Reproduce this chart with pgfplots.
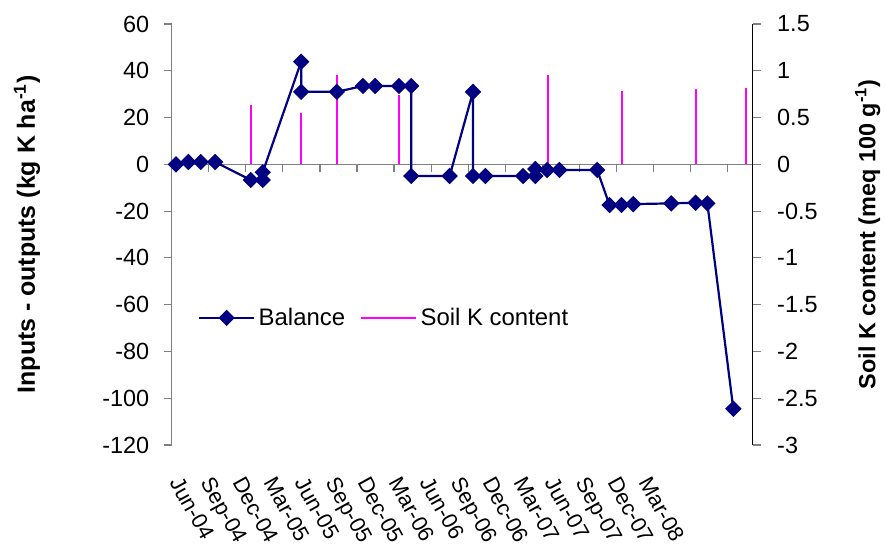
\documentclass[border=0pt]{standalone}
\usepackage{pgfplots}
\pgfplotsset{compat=1.18}
\usepackage{pgfplotstable}
\usepackage{fontspec}
\setmainfont{Liberation Sans}
\definecolor{navyb}{RGB}{0,0,128}
\definecolor{pinkk}{RGB}{255,0,255}
\definecolor{axgray}{RGB}{128,128,128}

% x = months after 1 Jun 2004 (tick 0 = Jun-04, ticks every 3 months)
\pgfplotstableread{
x y
0.35 0
1.35 1
2.35 1
3.51 1
6.40 -6.7
7.37 -6.7
7.37 -3.4
10.48 43.9
10.48 31.0
13.37 31.0
15.48 33.5
16.47 33.5
18.40 33.5
19.39 33.5
19.39 -5.0
22.50 -5.0
24.39 31.0
24.39 -5.0
25.39 -5.0
28.44 -5.0
29.44 -5.0
29.44 -2.0
30.39 -2.4
31.39 -2.4
34.44 -2.4
35.44 -17.4
36.41 -17.4
37.36 -17.0
40.44 -16.7
42.41 -16.4
43.36 -16.7
45.46 -104.5
}\balancetab

\pgfplotstableread{
x y
6.43 0.63
10.48 0.545
13.37 0.95
18.42 0.74
30.44 0.95
36.41 0.78
42.43 0.80
46.46 0.82
}\soiltab

\begin{document}
\begin{tikzpicture}
% ---------- right axis: soil K content + zero line with ticks ----------
\begin{axis}[
  name=main,
  scale only axis, width=581bp, height=421bp,
  xmin=0, xmax=47.03,
  ymin=-3, ymax=1.5,
  ytick={-3,-2.5,...,1.5},
  axis y line*=right,
  axis x line*=middle,
  y axis line style={black, line width=1.2bp},
  x axis line style={axgray, line width=1.2bp},
  tick align=outside,
  major tick length=8bp,
  tick style={axgray, line width=1.2bp},
  xtick={0,3,...,45},
  xticklabels={},
  ticklabel style={font=\fontsize{23.5}{27}\selectfont},
  yticklabel style={xshift=13bp},
  /pgf/number format/assume math mode=true,
  ylabel={Soil K content (meq 100 g\textsuperscript{-1})},
  ylabel style={font=\fontsize{23.5}{27}\selectfont\bfseries, at={(axis description cs:1.198,0.5)}, anchor=center},
  clip=false,
]
\addplot[ycomb, pinkk, line width=2bp, no markers] table {\soiltab};
\end{axis}
% ---------- left axis: balance ----------
\begin{axis}[
  scale only axis, width=581bp, height=421bp,
  xmin=0, xmax=47.03,
  ymin=-120, ymax=60,
  ytick={-120,-100,...,60},
  axis y line*=left,
  axis x line*=bottom,
  x axis line style={draw=none},
  y axis line style={axgray, line width=1.2bp},
  tick align=outside,
  major tick length=8bp,
  ytick style={axgray, line width=1.2bp},
  xtick style={draw=none},
  xtick={0.27,2.80,5.33,7.86,10.39,12.92,15.45,17.98,20.51,23.04,25.57,28.10,30.63,33.16,35.69,38.22},
  xticklabels={Jun-04,Sep-04,Dec-04,Mar-05,Jun-05,Sep-05,Dec-05,Mar-06,Jun-06,Sep-06,Dec-06,Mar-07,Jun-07,Sep-07,Dec-07,Mar-08},
  ticklabel style={font=\fontsize{23.5}{27}\selectfont},
  xticklabel style={font=\fontsize{22}{26}\selectfont, xshift=8bp, yshift=-22bp, rotate=-61, anchor=north west, inner sep=0pt},
  yticklabel style={xshift=-11bp},
  /pgf/number format/assume math mode=true,
  ylabel={Inputs - outputs (kg K ha\textsuperscript{-1})},
  ylabel style={font=\fontsize{25}{29}\selectfont\bfseries, at={(axis description cs:-0.249,0.5)}, anchor=center},
  legend image code/.code={\draw[mark repeat=2,mark phase=2,#1] plot coordinates {(0bp,0bp) (27.5bp,0bp) (55bp,0bp)};},
  legend style={at={(axis description cs:0.045,0.302)}, anchor=west, draw=none, fill=none,
    font=\fontsize{24}{28}\selectfont, inner sep=0pt, nodes={inner xsep=0bp, inner ysep=2bp},
    /tikz/every odd column/.append style={column sep=3.5bp},
    /tikz/every even column/.append style={column sep=15bp}},
  legend columns=2,
  clip=false,
]
\addplot[navyb, line width=2.2bp, mark=square*, mark size=4.7bp, mark options={rotate=45, solid, fill=navyb}] table {\balancetab};
\addlegendentry{Balance}
\addlegendimage{pinkk, line width=2bp}
\addlegendentry{Soil K content}
\end{axis}
\pgfresetboundingbox
\path ([xshift=-171.7bp, yshift=-105bp]main.south west) rectangle ([xshift=133.3bp, yshift=24bp]main.north east);
\end{tikzpicture}
\end{document}
